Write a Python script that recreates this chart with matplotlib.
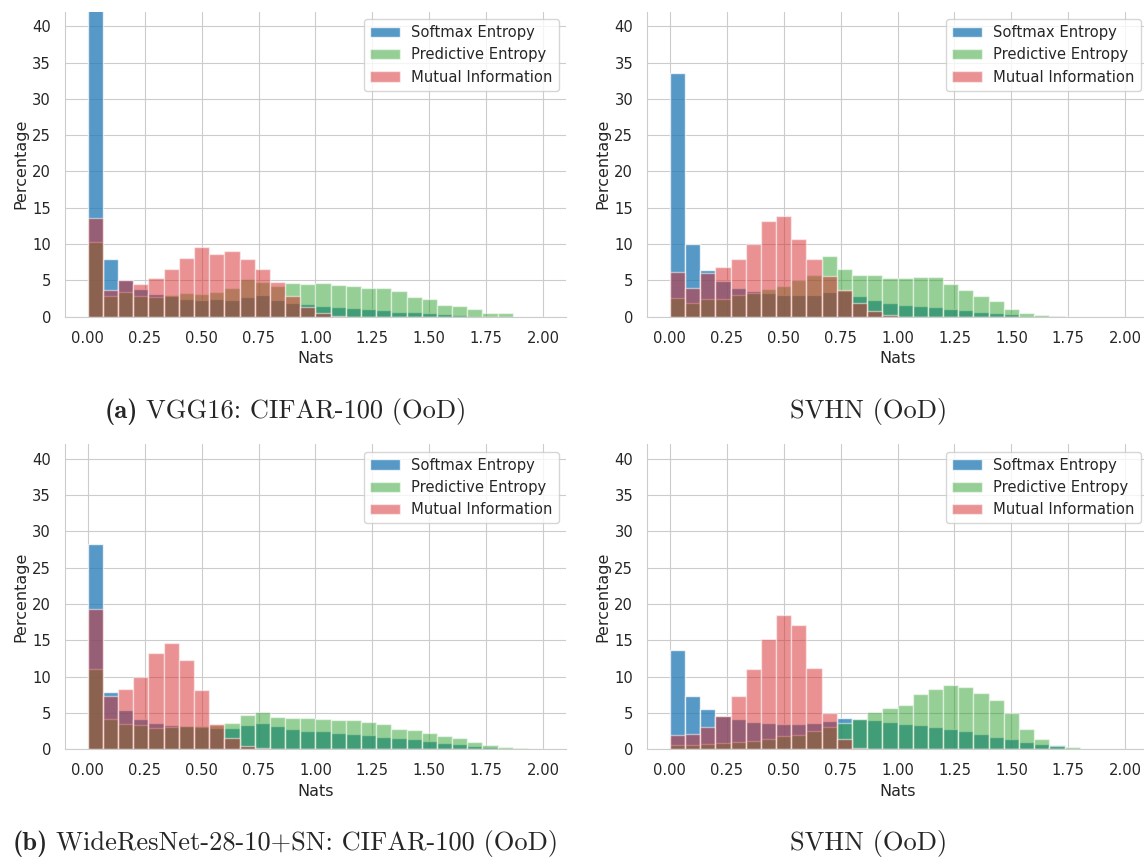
import numpy as np
import matplotlib
matplotlib.use("Agg")
import matplotlib.pyplot as plt
import seaborn as sns

# histogram bins: 30 bins over [0, 2] nats
bin_edges = np.linspace(0.0, 2.0, 31)

# percentages per bin, VGG16 on CIFAR-100 (OoD)
vgg_cifar_softmax = [48.0, 7.9, 5.0, 3.8, 3.1, 2.8, 2.5, 2.3, 2.4, 2.3, 2.7, 3.0, 2.3, 1.9, 1.7,
                     1.5, 1.35, 1.15, 1.05, 0.9, 0.7, 0.6, 0.45, 0.35, 0.25, 0.1, 0, 0, 0, 0]
vgg_cifar_pred = [10.3, 2.8, 3.35, 2.8, 2.7, 3.0, 3.2, 3.1, 3.4, 4.0, 5.2, 4.8, 4.2, 4.7, 4.45,
                  4.7, 4.4, 4.2, 4.0, 3.9, 3.5, 2.7, 2.4, 1.6, 1.5, 1.0, 0.55, 0.45, 0, 0]
vgg_cifar_mi = [13.6, 3.7, 5.1, 4.55, 5.3, 6.6, 8.1, 9.6, 8.7, 9.0, 8.0, 6.5, 4.8, 2.8, 1.35,
                0.5, 0.1, 0, 0, 0, 0, 0, 0, 0, 0, 0, 0, 0, 0, 0]

# VGG16 on SVHN (OoD)
vgg_svhn_softmax = [33.6, 10.0, 6.4, 4.85, 4.0, 3.6, 3.2, 3.05, 2.95, 3.05, 3.45, 3.6, 2.8, 2.25, 1.95,
                    1.6, 1.5, 1.3, 1.1, 0.9, 0.65, 0.5, 0.4, 0.15, 0.05, 0, 0, 0, 0, 0]
vgg_svhn_pred = [2.55, 1.95, 2.4, 2.5, 3.0, 3.25, 3.8, 4.2, 5.1, 5.8, 8.3, 6.6, 5.8, 5.75, 5.35,
                 5.3, 5.5, 5.45, 4.5, 3.7, 2.9, 2.1, 1.05, 0.5, 0.2, 0.05, 0, 0, 0, 0]
vgg_svhn_mi = [6.1, 3.9, 5.95, 6.9, 8.0, 10.0, 13.2, 13.8, 10.7, 7.9, 5.6, 3.7, 1.85, 0.8, 0.2,
               0, 0, 0, 0, 0, 0, 0, 0, 0, 0, 0, 0, 0, 0, 0]

# WideResNet-28-10+SN on CIFAR-100 (OoD)
wrn_cifar_softmax = [28.2, 7.9, 5.4, 4.2, 3.6, 3.35, 3.2, 3.1, 3.0, 3.0, 3.35, 3.6, 3.2, 2.85, 2.55,
                     2.45, 2.3, 2.1, 1.9, 1.75, 1.5, 1.35, 1.15, 0.9, 0.7, 0.5, 0.3, 0.1, 0, 0]
wrn_cifar_pred = [11.1, 4.2, 3.55, 3.3, 2.9, 3.05, 3.25, 3.25, 3.3, 3.6, 4.7, 5.1, 4.5, 4.35, 4.35,
                  4.15, 4.0, 4.0, 3.8, 3.5, 2.75, 2.6, 2.2, 1.85, 1.6, 1.05, 0.6, 0.35, 0.15, 0.05]
wrn_cifar_mi = [19.3, 7.4, 8.3, 10.0, 13.3, 14.7, 12.3, 8.1, 3.45, 1.6, 0.5, 0.2, 0, 0, 0,
                0, 0, 0, 0, 0, 0, 0, 0, 0, 0, 0, 0, 0, 0, 0]

# WideResNet-28-10+SN on SVHN (OoD)
wrn_svhn_softmax = [13.7, 7.4, 5.5, 4.6, 4.2, 3.8, 3.6, 3.5, 3.5, 3.6, 3.9, 4.3, 4.2, 4.05, 3.8,
                    3.55, 3.3, 3.1, 2.85, 2.55, 2.1, 1.75, 1.45, 1.05, 0.75, 0.55, 0.1, 0, 0, 0]
wrn_svhn_pred = [0.6, 0.55, 0.7, 0.9, 1.05, 1.1, 1.4, 1.8, 2.0, 2.55, 3.05, 3.6, 4.15, 5.15, 5.65,
                 6.1, 7.55, 8.35, 8.8, 8.55, 7.75, 6.75, 5.0, 2.85, 1.4, 0.5, 0.3, 0, 0, 0]
wrn_svhn_mi = [1.95, 2.1, 3.1, 4.65, 7.4, 11.1, 15.2, 18.5, 17.1, 11.2, 5.0, 1.4, 0.2, 0, 0,
               0, 0, 0, 0, 0, 0, 0, 0, 0, 0, 0, 0, 0, 0, 0]

series_names = ["Softmax Entropy", "Predictive Entropy", "Mutual Information"]
# (bold tag, caption text) under each panel
caption_tags = ["(a)", "", "(b)", ""]
caption_texts = ["VGG16: CIFAR-100 (OoD)", "SVHN (OoD)",
                 "WideResNet-28-10+SN: CIFAR-100 (OoD)", "SVHN (OoD)"]

sns.set_style("whitegrid")
plt.rcParams["font.family"] = ["DejaVu Sans"]

colors = ["tab:blue", "tab:green", "tab:red"]
alphas = [0.75, 0.5, 0.5]

fig = plt.figure(figsize=(11.44, 8.58), dpi=100)

panels = [
    (vgg_cifar_softmax, vgg_cifar_pred, vgg_cifar_mi),
    (vgg_svhn_softmax, vgg_svhn_pred, vgg_svhn_mi),
    (wrn_cifar_softmax, wrn_cifar_pred, wrn_cifar_mi),
    (wrn_svhn_softmax, wrn_svhn_pred, wrn_svhn_mi),
]
# axes boxes in figure fractions
lefts = [0.0568, 0.5656]
bottoms = [0.6309, 0.1267]
w, h = 0.4379, 0.3555
width = bin_edges[1] - bin_edges[0]

for k, data in enumerate(panels):
    ax = fig.add_axes([lefts[k % 2], bottoms[k // 2], w, h])
    for vals, c, a, name in zip(data, colors, alphas, series_names):
        ax.bar(bin_edges[:-1], vals, width=width, align="edge", color=c, alpha=a,
               edgecolor="white", linewidth=1.0, label=name)
    ax.set_xlim(-0.1, 2.1)
    ax.set_ylim(0, 42)
    ax.set_xticks(np.arange(0, 2.01, 0.25))
    ax.set_yticks(np.arange(0, 41, 5))
    ax.tick_params(axis="both", length=0, pad=10, labelsize=10.6, labelcolor="#262626")
    ax.set_xlabel("Nats", fontsize=11.5, color="#262626", labelpad=4)
    ax.set_ylabel("Percentage", fontsize=11.5, color="#262626", labelpad=3)
    sns.despine(ax=ax)
    ax.legend(loc="upper right", fontsize=10.6, frameon=True)

# captions: bold tag in cmb10 followed by the text in cmr10, centred as one line
renderer = fig.canvas.get_renderer()
W = fig.get_figwidth() * fig.dpi
cap_y = [0.5133, 0.0098]
cap_x = [0.2495, 0.759]
gap = 0.333 * 19 * fig.dpi / 72 / W
for k in range(4):
    y = cap_y[k // 2]
    rest = fig.text(0, y, caption_texts[k], ha="left", va="baseline",
                    family="cmr10", fontsize=19)
    wr = rest.get_window_extent(renderer).width / W
    if caption_tags[k]:
        tag = fig.text(0, y, caption_tags[k], ha="left", va="baseline",
                       family="cmb10", fontsize=19)
        wb = tag.get_window_extent(renderer).width / W
        x0 = cap_x[k % 2] - (wb + gap + wr) / 2
        tag.set_x(x0)
        rest.set_x(x0 + wb + gap)
    else:
        rest.set_x(cap_x[k % 2] - wr / 2)

fig.savefig("out.png", dpi=100)
